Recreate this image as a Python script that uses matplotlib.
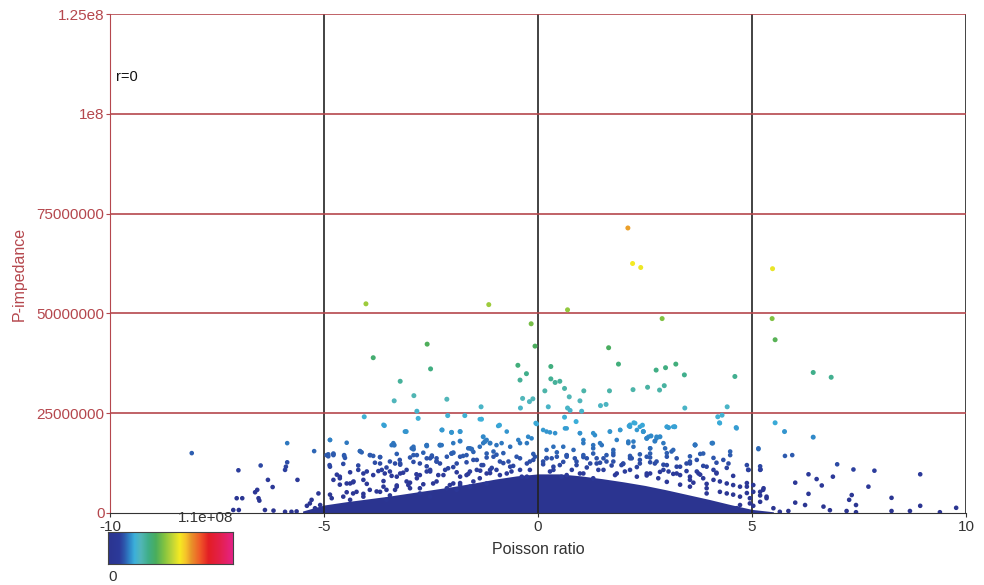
import matplotlib
matplotlib.use("Agg")
import matplotlib.pyplot as plt
from matplotlib.colors import LinearSegmentedColormap, Normalize
import numpy as np

plt.rcParams['font.family'] = ['Liberation Sans', 'DejaVu Sans']

# ---- data (Poisson ratio, P-impedance in units of 1e6) ----
# sparse, individually visible points
pts_x = [2.10, 2.21, 2.40, -4.02, -1.15, 0.69, 2.90, -0.16, -0.07, -2.59, -3.85, 1.65, 1.88,
         -2.51, -0.47, -0.27, -0.42, 0.30, 0.30, 0.40, 0.51, 0.62, 0.16, 0.73, 0.98, 1.07,
         1.67, 2.22, 2.56, 2.76, 2.98, 2.84, 2.95, -3.22, -2.90, -3.36, -2.13, -2.83, -2.80,
         -4.06, -2.11, -1.71, -1.33, -1.32, -0.36, -0.20, -0.12, -0.41, 0.24, 0.69, 0.75,
         1.02, 1.46, 1.59, 0.89, 0.62, -0.05, -3.59, -0.90, 2.13, 2.24, 2.44,
         5.48, 5.47, 5.54, 3.22, 3.42, 4.60, 6.43, 6.85, 3.43, 4.42, 4.20, 4.30, 4.24, 4.63,
         5.54, 5.76, 6.43, 3.05, 3.19, 2.46, 2.54, 2.64, 2.73, 2.85, 3.67, 4.08,
         -3.08, -3.36, -2.91, -2.60, -2.24, -2.02, -1.82, -1.28, -1.24, -1.12, -1.55, -1.82,
         -1.98, -2.29]
pts_y = [71.4, 62.5, 61.5, 52.4, 52.2, 50.9, 48.7, 47.4, 41.8, 42.3, 38.9, 41.4, 37.3,
         36.1, 37.0, 34.9, 33.3, 36.7, 33.6, 32.7, 33.0, 31.2, 30.6, 29.1, 28.1, 30.6,
         30.6, 30.9, 31.5, 35.8, 36.4, 30.8, 31.9, 33.0, 29.4, 28.1, 28.5, 25.5, 23.7,
         24.1, 24.4, 24.4, 26.6, 23.5, 28.7, 27.9, 28.6, 26.3, 26.6, 26.3, 25.7,
         25.5, 26.9, 27.2, 22.9, 24.0, 22.5, 21.9, 22.0, 21.8, 22.6, 22.0,
         61.2, 48.7, 43.4, 37.3, 34.6, 34.2, 35.2, 34.0, 26.3, 26.6, 24.1, 24.5, 22.6, 21.4,
         22.6, 20.4, 19.0, 21.4, 21.6, 20.4, 18.7, 19.3, 18.0, 19.1, 17.1, 17.5,
         20.4, 17.0, 16.0, 16.8, 20.8, 20.2, 20.4, 19.1, 17.9, 17.5, 16.0, 18.0,
         15.1, 17.0]

# points scattered around and above the dense cluster
fringe_x = [-4.86, -4.90, -4.78, -4.87, -4.53, -4.47, -4.16, -3.92, -3.85, -3.69, -3.42, -3.34,
            -3.22, -2.95, -2.83, -2.60, -2.60, -2.48, -2.37, -2.25, -2.02, -1.82, -1.59, -1.43,
            -1.28, -1.20, -1.04, -0.85, -0.69, -0.42, -0.23, -0.11, -4.63, -4.47, -4.31, -4.00,
            -3.85, -3.65, -3.46, -3.22, -3.07, -2.76, -2.52, -2.17, -1.98, -1.67, -1.43, -1.20,
            -0.97, -0.73, -0.42, -0.26, -4.24, -3.93, -3.69, -3.54, -3.30, -2.99, -4.82, -4.39,
            -4.08, -3.54, -2.76, -2.52, -1.90, -1.59,
            0.20, 0.40, 0.67, 0.98, 1.33, 1.68, 1.92, 2.15, 2.27, 2.38, 2.46, 2.58, 2.77, 3.01,
            3.20, 4.25, 4.64, 5.15, 1.06, 1.29, 1.49, 1.84, 2.11, 2.23, 2.62, 2.97, 3.12, 3.67,
            3.86, 4.06, 4.49, 0.20, 0.44, 0.67, 0.86, 1.06, 1.22, 1.37, 1.60, 1.76, 1.99, 2.19,
            2.38, 2.62, 2.73, 3.01, 3.32, 3.55, 3.71, 3.94, 4.10, 4.33, 4.45, 4.17, 4.91, 5.19,
            0.36, 0.67, 0.98, 1.41, 1.84, 2.15, 2.62, 2.93, 3.24, 3.55, 3.86, 4.10, 4.41, 4.72,
            5.03, 5.27, 4.72, 4.95, 5.19, 5.34, 4.41, 3.94, 3.55,
            5.15, 5.77, 5.94, 6.99, 7.37, 7.86, 8.93, 4.92, 5.20, 6.32, 6.51, 6.89, 6.01, 6.63,
            7.72, 6.32, 7.33, 7.27, 7.43, 8.26, 6.01, 6.24, 6.67, 6.82, 7.21, 7.43, 8.26, 8.69,
            8.93, 9.39, 9.77, 5.65, 5.85, 5.50, 4.88, 5.03, 5.26, 5.34, 4.95, 5.19, 4.72, 4.64,
            5.03,
            -8.09, -7.00, -6.48, -5.86, -5.86, -5.89, -5.91, -6.31, -6.20, -5.62, -6.56, -6.61,
            -6.53, -6.51, -7.04, -6.91, -6.99, -6.38, -6.18, -5.91, -5.76, -5.64, -5.23, -5.13,
            -5.29, -5.33, -5.40, -5.21, -5.09, -4.86, -4.94, -4.78, -4.53, -4.16, -4.78, -4.63,
            -4.39, -4.20, -4.08, -4.55, -4.32, -7.12,
            -3.61, -3.11, -2.25, -2.02, -1.82, -1.36, -0.93, -0.73, -0.03, 0.12, 0.28, 0.63,
            0.98, 1.29, 1.68, 1.92, 2.15, 2.31, 2.46, 2.77, 3.01, 3.16,
            -3.38, -2.91, -2.60, -2.29, -1.98, -1.63, -1.36, -1.20, -0.97, -0.65, -0.46, -0.26,
            -0.15, 0.20, 0.36, 0.59, 0.83, 1.06, 1.29, 1.45, 1.76, 2.11, 2.23, 2.54, 2.62, 2.93,
            3.16, 3.67,
            -3.69, -3.46, -3.23, -2.91, -2.76, -2.52, -2.37, -2.13, -1.90, -1.67, -1.51, -1.28,
            -1.04, -0.89, -0.65, -0.42, -0.26, -0.07, 0.12, 0.32, 0.51, 0.67, 0.90, 1.14, 1.37,
            1.60, 1.76, 1.95, 2.15, 2.38, 2.54, 2.77, 3.01, 3.24, 3.47, 3.71,
            -3.58, -3.30, -3.07, -2.83, -2.60, -2.33, -2.10, -1.82, -1.59, -1.36, -1.12, -0.89,
            -0.62, -0.38, -0.19, 0.28, 0.55, 0.79, 1.06, 1.29, 1.53, 1.80, 2.03, 2.31, 2.54,
            2.81, 3.05, 3.32, 3.55, 3.75,
            -3.61, -3.34, -3.03, -2.76, -2.45, -2.13, -1.82, -1.51, -1.20]
fringe_y = [18.3, 14.7, 14.7, 12.0, 14.5, 17.6, 15.5, 14.5, 14.3, 14.0, 17.0, 12.4,
            12.4, 16.2, 14.5, 17.0, 13.7, 14.1, 12.9, 17.0, 14.9, 14.1, 16.2, 13.3,
            17.5, 14.9, 15.4, 17.5, 12.9, 17.5, 19.1, 13.3, 8.7, 7.4, 7.9, 10.4,
            9.5, 10.8, 10.4, 9.9, 7.9, 9.5, 10.8, 10.8, 7.4, 9.5, 10.8, 9.9,
            10.8, 9.9, 10.8, 9.1, 5.3, 5.8, 5.3, 5.8, 6.6, 6.2, 3.7, 3.3,
            4.1, 3.3, 4.9, 4.1, 5.8, 6.6,
            20.4, 20.0, 21.2, 20.0, 19.5, 20.4, 20.8, 21.6, 22.5, 21.6, 20.4, 19.1, 18.7, 21.6,
            21.6, 22.5, 21.2, 16.2, 18.3, 17.0, 17.0, 18.3, 17.9, 16.6, 16.2, 16.2, 15.4, 17.0,
            14.9, 17.5, 15.4, 13.7, 14.1, 14.5, 13.7, 14.5, 12.4, 13.7, 12.9, 14.5, 12.4, 13.7,
            13.3, 14.9, 12.4, 14.1, 11.6, 12.9, 10.4, 11.6, 10.8, 13.3, 12.4, 9.9, 10.8, 10.8,
            10.8, 9.5, 9.9, 10.8, 9.9, 10.8, 9.9, 10.8, 9.9, 9.1, 8.7, 8.3, 7.4, 6.6,
            7.0, 6.2, 4.1, 2.4, 5.3, 4.1, 4.9, 6.2, 6.6,
            16.0, 14.3, 14.5, 12.2, 10.9, 10.6, 9.7, 10.8, 10.9, 9.7, 8.5, 9.1, 7.6, 6.9,
            6.6, 4.8, 4.5, 3.3, 2.0, 3.8, 2.6, 2.0, 1.6, 0.7, 0.5, 0.2, 0.5, 0.5,
            1.8, 0.2, 1.3, 0.3, 0.5, 1.2, 6.6, 5.3, 5.8, 3.7, 3.7, 2.8, 2.0, 1.2,
            1.8,
            15.0, 10.7, 11.9, 17.5, 12.7, 11.6, 10.8, 8.3, 6.5, 8.3, 5.8, 5.2,
            3.7, 3.1, 3.7, 3.7, 0.75, 0.75, 0.6, 0.3, 0.3, 0.4, 15.5, 4.9,
            3.3, 2.4, 1.8, 1.2, 2.0, 18.3, 14.5, 14.5, 14.3, 15.5, 8.3, 9.1,
            7.4, 10.8, 8.3, 4.1, 4.9, 0.75,
            22.1, 20.4, 20.8, 20.2, 20.4, 23.5, 21.8, 20.4, 22.3, 20.8, 20.2, 21.2,
            20.0, 20.0, 20.4, 20.8, 22.1, 20.8, 20.4, 19.1, 21.6, 21.6,
            17.5, 16.6, 17.0, 17.0, 17.5, 16.2, 16.6, 18.3, 17.0, 16.6, 18.3, 17.5,
            18.7, 15.8, 16.6, 16.6, 15.8, 17.5, 16.2, 17.5, 15.8, 17.5, 17.9, 18.7, 16.2, 17.5,
            15.8, 17.0,
            12.4, 12.9, 13.3, 14.5, 12.4, 13.7, 12.9, 14.1, 12.4, 14.5, 13.3, 12.0,
            14.1, 12.9, 11.6, 13.7, 12.4, 14.1, 12.9, 13.7, 12.0, 14.1, 12.9, 13.7, 12.4,
            14.5, 12.9, 12.0, 13.7, 12.4, 14.1, 12.9, 12.0, 13.7, 12.4, 13.3,
            9.9, 9.1, 10.8, 8.7, 10.4, 9.5, 11.2, 9.1, 10.4, 8.7, 10.8, 9.5,
            10.4, 9.1, 10.8, 10.4, 9.1, 10.8, 9.9, 8.7, 10.8, 9.5, 10.4, 9.1, 9.9,
            8.7, 10.4, 9.5, 8.3, 9.9,
            6.6, 5.8, 7.0, 6.2, 7.4, 6.2, 7.0, 7.9, 7.4]

# dense speckle just above the solid cluster
speckle_x = [-4.90, -4.78, -4.51, -4.12, -3.93, -3.69, -3.30, -2.99, -2.68, -2.48, -2.37, -2.02,
             -1.75, -1.51, -1.20, -0.97, -0.81, -0.50, -0.11, 0.20, 0.44, 0.67, 1.06, 1.29,
             1.53, 1.76, 2.15, 2.38, 2.62, 3.01, 3.55, 3.79, 4.10, 4.49,
             -4.86, -4.55, -4.20, -3.81, -3.54, -3.22, -2.91, -2.60, -2.29, -1.98, -1.67, -1.32,
             -1.08, -0.81, -0.58, -0.19, 0.12, 0.36, 0.59, 0.90, 1.14, 1.45, 1.72, 1.99, 2.31,
             2.62, 2.93, 3.24, 3.55, 3.86, 4.17, 4.41, 4.88, 5.19,
             -4.70, -4.39, -4.08, -3.73, -3.42, -3.15, -2.84, -2.52, -2.21, -1.90, -1.63, -1.35,
             -1.12, 2.54, 2.85, 3.16, 3.47, 3.79, 4.17, 4.56,
             -4.63, -4.32, -4.00, -3.61, -3.30, -2.99, -2.68, -2.37, -2.06, -1.82, 3.01, 3.32,
             3.63, 3.94, 4.25, 4.56, 4.88,
             -4.86, -4.47, -4.08, -3.77, -3.46, 3.94, 4.25, 4.56, 4.88, 5.19]
speckle_y = [14.2, 14.9, 13.8, 15.2, 14.5, 14.0, 14.8, 13.9, 15.1, 14.4, 13.7, 14.9,
             14.3, 15.3, 13.9, 14.6, 15.0, 14.1, 14.8, 13.8, 15.2, 14.4, 14.0, 14.9,
             13.7, 15.1, 14.3, 14.7, 13.9, 15.0, 14.2, 14.8, 13.8, 14.5,
             11.6, 12.3, 11.9, 12.6, 11.4, 12.1, 12.8, 11.7, 12.4, 11.5, 12.7, 12.0,
             11.3, 12.5, 11.8, 12.9, 12.2, 11.6, 12.8, 12.0, 11.4, 12.6, 11.9, 12.3, 11.5,
             12.7, 12.1, 11.6, 12.4, 11.8, 12.6, 11.3, 12.0, 11.7,
             9.6, 10.2, 9.9, 10.5, 9.3, 10.1, 9.7, 10.4, 9.5, 10.2, 9.8, 10.6,
             10.0, 9.4, 10.3, 9.8, 10.5, 9.6, 10.1, 9.3,
             7.1, 7.7, 7.3, 8.0, 6.9, 7.6, 7.2, 7.9, 7.0, 7.5, 7.8, 7.1,
             7.6, 7.3, 7.9, 7.0, 7.5,
             4.6, 5.2, 4.8, 5.4, 4.4, 4.9, 5.3, 4.6, 5.0, 4.4]

# upper envelope of the solid, densely packed cluster
blob_x = [-5.5, -5.0, -4.5, -4.0, -3.5, -3.0, -2.5, -2.0, -1.5, -1.0, -0.5, 0.0, 0.5,
          1.0, 1.5, 2.0, 2.5, 3.0, 3.5, 4.0, 4.5, 5.0, 5.5]
blob_top = [0.5, 2.0, 2.8, 3.5, 4.2, 5.0, 5.8, 6.6, 7.5, 8.5, 9.3, 9.8, 9.8,
            9.3, 8.6, 7.8, 6.9, 5.8, 4.6, 3.4, 2.1, 0.9, 0.3]

x_ticks = [-10, -5, 0, 5, 10]
y_ticks = [0, 25e6, 50e6, 75e6, 1e8, 1.25e8]
y_ticklabels = ['0', '25000000', '50000000', '75000000', '1e8', '1.25e8']
cbar_max = 1.1e8

# ---- style ----
red = '#b5474d'
cmap = LinearSegmentedColormap.from_list('ps', [
    (0.00, '#2b3490'), (0.09, '#2c3a9a'), (0.13, '#2d5aae'), (0.17, '#2f86c8'),
    (0.21, '#3cb0da'), (0.26, '#52b6b8'), (0.32, '#3fae88'), (0.38, '#4aad5c'),
    (0.45, '#86c440'), (0.52, '#c8d835'), (0.57, '#f5ea22'), (0.62, '#f6c22a'),
    (0.66, '#e8952a'), (0.73, '#f05a28'), (0.80, '#e31e25'), (0.90, '#e42050'),
    (1.00, '#e5228b')])
norm = Normalize(0, cbar_max)

fig = plt.figure(figsize=(9.84, 5.85), dpi=100)
ax = fig.add_axes([110/984, 72/585, 856/984, 499/585])
ax.set_xlim(-10, 10)
ax.set_ylim(0, 1.25e8)

# grid
for xv in x_ticks[1:]:
    ax.axvline(xv, color='#222222', lw=1.2, zorder=2)
for yv in y_ticks[1:]:
    ax.axhline(yv, color=red, lw=1.2, zorder=2)

bx = np.array(blob_x)
bt = np.array(blob_top) * 1e6
ax.fill_between(bx, 0, bt, color=cmap(0.0), lw=0, zorder=1)

sy = np.array(speckle_y) * 1e6
ax.scatter(speckle_x, sy, s=11, c=sy, cmap=cmap, norm=norm, lw=0, zorder=3)
fy = np.array(fringe_y) * 1e6
ax.scatter(fringe_x, fy, s=11, c=fy, cmap=cmap, norm=norm, lw=0, zorder=3)
py = np.array(pts_y) * 1e6
ax.scatter(pts_x, py, s=13, c=py, cmap=cmap, norm=norm, lw=0, zorder=3)

for s in ['top', 'right']:
    ax.spines[s].set_visible(False)
ax.spines['left'].set_color(red)
ax.spines['bottom'].set_color('#333333')

ax.set_xticks(x_ticks)
ax.set_xticklabels([str(t) for t in x_ticks])
ax.set_yticks(y_ticks)
ax.set_yticklabels(y_ticklabels)
ax.tick_params(axis='x', colors='#333333', labelsize=11, length=3, pad=2)
ax.tick_params(axis='y', colors=red, labelsize=11, length=3, pad=1)
for lab in ax.get_yticklabels():
    lab.set_color(red)

ax.set_xlabel('Poisson ratio', fontsize=11.5, color='#333333', labelpad=6)
ax.set_ylabel('P-impedance', fontsize=11.5, color=red, labelpad=6)
ax.yaxis.set_label_coords(-0.097, 0.48)

ax.text(0.007, 0.865, 'r=0', transform=ax.transAxes, fontsize=10.5, color='#111111')

# colorbar
cax = fig.add_axes([108/984, (585-564)/585, 125/984, 32/585])
grad = np.linspace(0, 1, 256).reshape(1, -1)
cax.imshow(grad, aspect='auto', cmap=cmap, extent=[0, 1, 0, 1])
cax.set_xticks([])
cax.set_yticks([])
for s in cax.spines.values():
    s.set_color('#444444')
    s.set_linewidth(0.8)
fig.text(233/984, (585-518)/585, '1.1e+08', ha='right', va='center', fontsize=11, color='#333333')
fig.text(108/984, (585-577)/585, '0', ha='left', va='center', fontsize=11, color='#333333')

fig.savefig('out.png', dpi=100)
